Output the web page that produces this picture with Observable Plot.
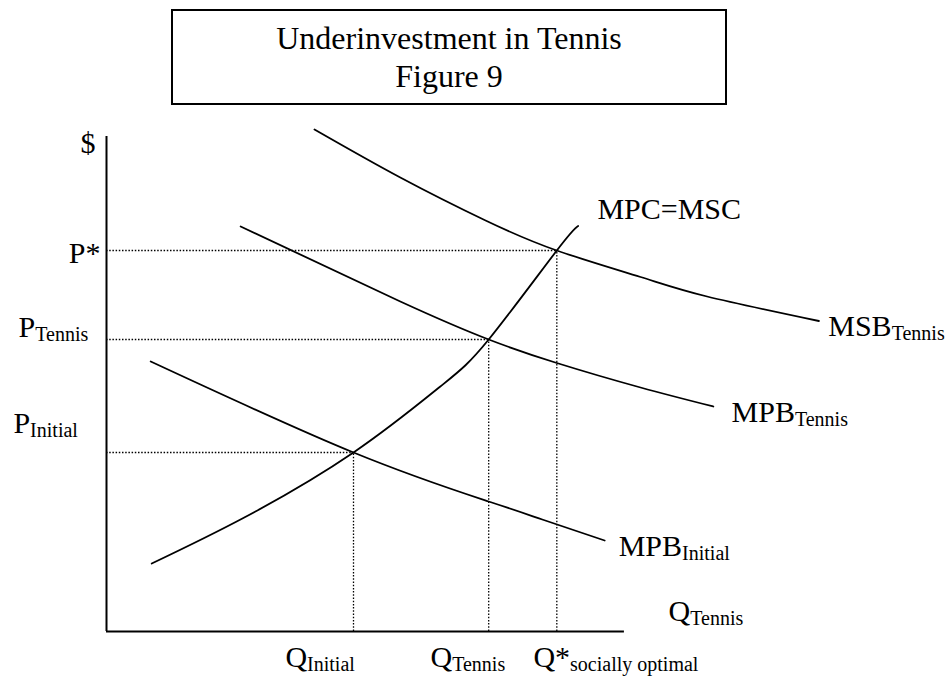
<!DOCTYPE html>
<html>
<head>
<meta charset="utf-8">
<script src="https://cdn.jsdelivr.net/npm/d3@7"></script>
<script src="https://cdn.jsdelivr.net/npm/@observablehq/plot@0.6"></script>
<style>
  html, body { margin: 0; padding: 0; background: #fff; }
  #wrap { width: 951px; height: 680px; overflow: hidden; font-family: "Liberation Serif", "Times New Roman", serif; }
  #titleArea { height: 107px; position: relative; }
  #titleBox {
    position: absolute; left: 171px; top: 9px; width: 556px; height: 96px;
    box-sizing: border-box; border: 2px solid #000; text-align: center;
    font-size: 32px; line-height: 38px; padding-top: 8px; color: #000;
  }
  svg { display: block; }
</style>
</head>
<body>
<div id="wrap">
  <div id="titleArea"><div id="titleBox">Underinvestment in Tennis<br>Figure 9</div></div>
  <div id="chart"></div>
</div>
<script>
// ---- Data (quantity Q, price P in arbitrary diagram units) ----
const msbQ = [4.00, 5.65, 7.29, 8.66, 10.27, 11.55, 13.70];
const msbP = [10.04, 9.08, 8.22, 7.62, 7.09, 6.70, 6.21];

const mpbTennisQ = [2.58, 5.65, 7.35, 8.66, 10.27, 11.67];
const mpbTennisP = [8.10, 6.60, 5.84, 5.37, 4.88, 4.50];

const mpbInitialQ = [0.85, 4.75, 7.35, 8.38, 9.58];
const mpbInitialP = [5.40, 3.58, 2.60, 2.24, 1.82];

const mpcQ = [0.87, 2.65, 4.75, 6.42, 7.35, 8.66, 9.07];
const mpcP = [1.36, 2.28, 3.58, 4.90, 5.84, 7.62, 8.11];

// equilibria: initial, tennis, socially optimal
const eqQ = [4.75, 7.35, 8.66];
const eqP = [3.58, 5.84, 7.62];

const axisQmax = 9.96;
const axisPmax = 9.9;

// labels: main text, subscript, anchor (Q, P)
const labelMain = ["MPC=MSC", "MSB", "MPB", "MPB", "Q", "Q", "Q", "Q*", "P", "P", "$"];
const labelSub  = ["", "Tennis", "Tennis", "Initial", "Tennis", "Initial", "Tennis", "socially optimal", "Tennis", "Initial", ""];
const labelQ    = [9.44, 13.88, 12.02, 9.85, 10.81, 3.44, 6.23, 8.21, -1.69, -1.79, -0.50];
const labelP    = [8.26, 5.92, 4.20, 1.52, 0.22, -0.70, -0.70, -0.70, 5.90, 3.98, 9.58];
const pStarLabel = "P*";

// ---- build ----
const zip = (qs, ps) => qs.map((q, i) => ({q, p: ps[i]}));
const curves = [zip(msbQ, msbP), zip(mpbTennisQ, mpbTennisP), zip(mpbInitialQ, mpbInitialP), zip(mpcQ, mpcP)];
const eq = zip(eqQ, eqP);
const labels = labelMain.map((m, i) => ({main: m, sub: labelSub[i], q: labelQ[i], p: labelP[i]}));

const FONT = "Liberation Serif";
const mainSize = 30, subSize = 20;
const ctx = document.createElement("canvas").getContext("2d");
ctx.font = `${mainSize}px "${FONT}"`;
const measure = (s) => ctx.measureText(s).width;

const marks = [];
// axes
marks.push(Plot.ruleX([0], {y1: 0, y2: axisPmax, stroke: "#000", strokeWidth: 2}));
marks.push(Plot.ruleY([0], {x1: 0, x2: axisQmax, stroke: "#000", strokeWidth: 2}));
// dotted guides
marks.push(Plot.ruleY(eq, {y: "p", x1: 0, x2: "q", stroke: "#000", strokeWidth: 1.3, strokeDasharray: "1.5,1.7"}));
marks.push(Plot.ruleX(eq, {x: "q", y1: 0, y2: "p", stroke: "#000", strokeWidth: 1.3, strokeDasharray: "1.5,1.7"}));
// curves
for (const c of curves) {
  marks.push(Plot.line(c, {x: "q", y: "p", curve: "natural", stroke: "#000", strokeWidth: 1.8}));
}
// labels
for (const l of labels) {
  marks.push(Plot.text([l], {x: "q", y: "p", text: "main", textAnchor: "start", lineAnchor: "bottom",
    fontSize: mainSize, fontFamily: FONT, fill: "#000"}));
  if (l.sub) {
    marks.push(Plot.text([l], {x: "q", y: "p", text: "sub", textAnchor: "start", lineAnchor: "bottom",
      dx: measure(l.main), dy: 4, fontSize: subSize, fontFamily: FONT, fill: "#000"}));
  }
}
marks.push(Plot.text([{q: -0.115, p: 7.38}], {x: "q", y: "p", text: () => pStarLabel, textAnchor: "end", lineAnchor: "bottom",
  fontSize: mainSize, fontFamily: FONT, fill: "#000"}));

const chart = Plot.plot({
  width: 951,
  height: 573,
  margin: 0,
  style: {background: "#fff", overflow: "visible"},
  x: {type: "linear", domain: [0, 10], range: [106, 626], axis: null},
  y: {type: "linear", domain: [0, 10], range: [524, 24], axis: null},
  marks
});
document.getElementById("chart").appendChild(chart);
</script>
</body>
</html>
